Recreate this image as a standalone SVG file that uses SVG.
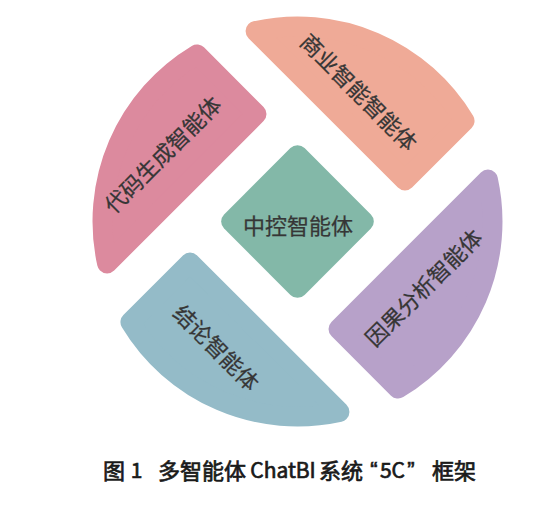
<svg xmlns="http://www.w3.org/2000/svg" xmlns:xlink="http://www.w3.org/1999/xlink" width="560" height="514" viewBox="0 0 560 514">
<style>
.seg{stroke-width:20;stroke-linejoin:round}
.lbl{font-family:"Noto Sans CJK SC","Noto Sans",sans-serif;font-size:22px;fill:#363636;stroke:#363636;stroke-width:0.25;text-anchor:middle;dominant-baseline:central}
.cap{font-family:"Noto Sans CJK SC","Noto Sans",sans-serif;font-size:22px;font-weight:normal;fill:#1a1a1a;stroke:#1a1a1a;stroke-width:0.7;text-anchor:middle;dominant-baseline:central}
.q{font-family:"Liberation Sans",sans-serif}
.lat{font-size:21px}
</style>
<defs>
<path id="seg" d="M105 47 L105 -164.3 A195 195 0 0 1 189.25 47 Z"/>
</defs>
<rect width="560" height="514" fill="#ffffff"/>
<g id="connectors"/>
<g id="node-business">
<use href="#seg" xlink:href="#seg" class="seg" fill="#EFAA97" stroke="#EFAA97" transform="translate(297.5 221.5) rotate(-45)"/>
<text class="lbl" transform="translate(360 91) rotate(45)">商业智能智能体</text>
</g>
<g id="node-causal">
<use href="#seg" xlink:href="#seg" class="seg" fill="#B7A1C9" stroke="#B7A1C9" transform="translate(297.5 221.5) rotate(45)"/>
<text class="lbl" transform="translate(422.5 286.5) rotate(-45)">因果分析智能体</text>
</g>
<g id="node-conclusion">
<use href="#seg" xlink:href="#seg" class="seg" fill="#94BBC8" stroke="#94BBC8" transform="translate(297.5 221.5) rotate(135)"/>
<text class="lbl" transform="translate(217.5 346.5) rotate(45)">结论智能体</text>
</g>
<g id="node-code">
<use href="#seg" xlink:href="#seg" class="seg" fill="#DC8A9E" stroke="#DC8A9E" transform="translate(297.5 221.5) rotate(-135)"/>
<text class="lbl" transform="translate(161.5 153.5) rotate(-45)">代码生成智能体</text>
</g>
<g id="node-control">
<rect x="-56.9" y="-56.9" width="113.8" height="113.8" rx="10" fill="#83B8A8" transform="translate(297.5 221.5) rotate(45)"/>
<text class="lbl" x="298" y="224">中控智能体</text>
</g>
<g id="caption">
<text class="cap" x="114" y="469">图</text>
<text class="cap lat" x="136.5" y="469">1</text>
<text class="cap" x="202" y="469">多智能体</text>
<text class="cap lat" x="283" y="469">ChatBI</text>
<text class="cap" x="341" y="469">系统</text>
<text class="cap q" x="374" y="469">“</text>
<text class="cap lat" x="392.5" y="469">5C</text>
<text class="cap q" x="411" y="469">”</text>
<text class="cap" x="454" y="469">框架</text>
</g>
</svg>
